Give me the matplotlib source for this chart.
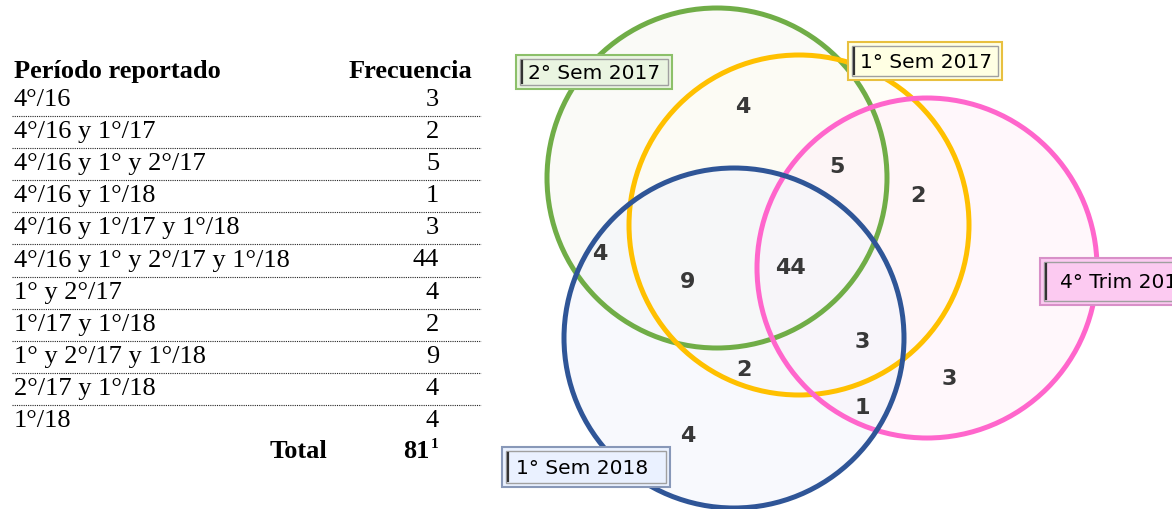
import matplotlib
matplotlib.use("Agg")
import matplotlib.pyplot as plt
from matplotlib.patches import Circle, Rectangle

# =============================================================================
# data
# =============================================================================
periodos = ["4°/16", "4°/16 y 1°/17", "4°/16 y 1° y 2°/17", "4°/16 y 1°/18",
            "4°/16 y 1°/17 y 1°/18", "4°/16 y 1° y 2°/17 y 1°/18",
            "1° y 2°/17", "1°/17 y 1°/18", "1° y 2°/17 y 1°/18",
            "2°/17 y 1°/18", "1°/18"]
frecuencia = [3, 2, 5, 1, 3, 44, 4, 2, 9, 4, 4]
total = 81

conjuntos = ["2° Sem 2017", "1° Sem 2017", "4° Trim 2017", "1° Sem 2018"]
# venn region counts (same numbers as the table)
regiones = [4, 5, 2, 4, 9, 44, 3, 2, 3, 1, 4]

# =============================================================================
# figure in pixel coords
# =============================================================================
W, H = 1172, 509
fig = plt.figure(figsize=(W / 100, H / 100), dpi=100)
ax = fig.add_axes([0, 0, 1, 1])
ax.set_xlim(0, W)
ax.set_ylim(H, 0)
ax.axis("off")

serif = "Liberation Serif"

# ---- table ------------------------------------------------------------------
ax.text(14, 71, "Período reportado", family=serif, weight="bold", fontsize=19,
        va="center", ha="left")
ax.text(472, 71, "Frecuencia", family=serif, weight="bold", fontsize=19,
        va="center", ha="right")
y0, dy = 100, 32.1
for i, (p, f) in enumerate(zip(periodos, frecuencia)):
    y = y0 + i * dy
    ax.text(14, y, p, family=serif, fontsize=19, va="center", ha="left")
    ax.text(439, y, str(f), family=serif, fontsize=19, va="center", ha="right")
    if i < len(periodos) - 1:
        ax.plot([12, 481], [y + 16, y + 16], color="#222222", lw=0.8,
                ls=(0, (1, 1)))
ax.text(327, 452, "Total", family=serif, weight="bold", fontsize=19,
        va="center", ha="right")
ax.text(430, 452, str(total), family=serif, weight="bold", fontsize=19,
        va="center", ha="right")
ax.text(431, 444, "1", family=serif, weight="bold", fontsize=11,
        va="center", ha="left")

# ---- venn circles -------------------------------------------------------------
circ = [((717, 178), 170, "#70AD47", "#F6F6F0"),
        ((799, 225), 170, "#FFC000", "#FFFDF3"),
        ((927, 268), 170, "#FF66CC", "#FFF0F9"),
        ((734, 338), 170, "#2F5597", "#F2F5FC")]
for (c, r, ec, fc) in circ:
    ax.add_patch(Circle(c, r, facecolor=fc, edgecolor="none", alpha=0.5,
                        zorder=1))
for k, (c, r, ec, fc) in enumerate(circ):
    ax.add_patch(Circle(c, r, facecolor="none", edgecolor=ec, lw=3.6,
                        zorder=2 + k))

pos = [(743, 107), (837, 167), (918, 196), (600, 254), (688, 282), (790, 268),
       (862, 342), (744, 370), (949, 379), (862, 408), (688, 436)]
for (x, y), n in zip(pos, regiones):
    ax.text(x, y, str(n), fontsize=16, weight="bold", color="#383838",
            ha="center", va="center", zorder=10, family="DejaVu Sans")

# ---- set labels ---------------------------------------------------------------
cajas = [(516, 55, 156, 34, "#EAF5E1", "#8CC06A", 12),
         (848, 42, 154, 38, "#FFFFE3", "#E8C040", 12),
         (1040, 258, 150, 47, "#FCCAF1", "#D890C8", 20),
         (502, 447, 168, 40, "#EAF1FF", "#8898B8", 14)]
for (x, y, w, h, fc, ec, pad), nombre in zip(cajas, conjuntos):
    ax.add_patch(Rectangle((x, y), w, h, facecolor=fc, edgecolor=ec, lw=1.5,
                           zorder=20))
    ax.add_patch(Rectangle((x + 4, y + 4), w - 8, h - 8, facecolor="none",
                           edgecolor="#A0A0A0", lw=1.0, zorder=21))
    ax.plot([x + 6, x + 6], [y + 6, y + h - 6], color="#333333", lw=1.6,
            zorder=22)
    ax.text(x + pad, y + h / 2 + 1, nombre, fontsize=14.5, color="black",
            ha="left", va="center", zorder=23, family="DejaVu Sans")

fig.savefig("out.png", dpi=100)
